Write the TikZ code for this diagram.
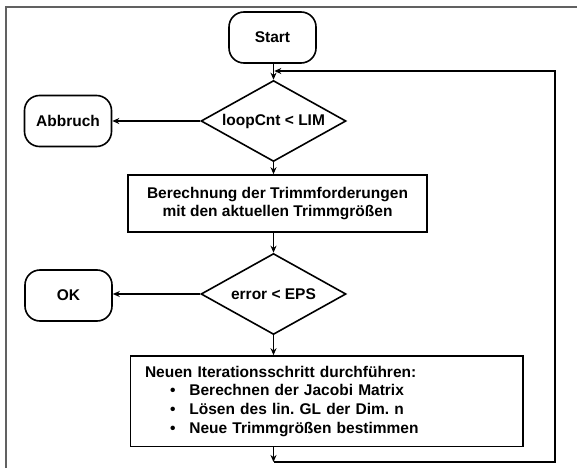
\documentclass[tikz,border=0pt]{standalone}
\usepackage{fontspec}
\setmainfont{Liberation Sans}
\usetikzlibrary{shapes.geometric,arrows.meta}
\frenchspacing
\begin{document}
\begin{tikzpicture}[x=1pt,y=-1pt,
  every node/.style={font=\bfseries\fontsize{15.5}{18.7}\selectfont},
  term/.style={draw,line width=1.6pt,rounded corners=15pt,minimum width=87pt,minimum height=51pt,inner sep=0pt},
  dec/.style={draw,line width=1.6pt,diamond,aspect=1.79,minimum width=145pt,minimum height=81pt,inner sep=0pt},
  proc/.style={draw,line width=1.6pt,inner sep=0pt},
  flow/.style={line width=1.6pt,-{Stealth[length=7pt,width=6pt]}},
  frame/.style={draw=black!62,line width=2pt}]
\useasboundingbox (0,0) rectangle (577,468);
\draw[frame] (6,468) -- (6,7) -- (577,7);
\node[term] (start) at (272.5,37.5) {Start};
\node[dec] (d1) at (273.5,121) {loopCnt < LIM};
\node[term] (abb) at (68,121) {Abbruch};
\node[proc,minimum width=299pt,minimum height=57pt,align=center] (b1) at (277.5,203.5)
  {\fontsize{15.5}{22.5}\selectfont Berechnung der Trimmforderungen\\mit den aktuellen Trimmgrößen};
\node[dec] (d2) at (273.5,294) {error < EPS};
\node[term] (ok) at (68.5,295.5) {OK};
\node[proc,minimum width=392.5pt,minimum height=90.5pt,text width=363.5pt,inner xsep=14.5pt,align=left] (b2) at (326.75,401.25)
  {Neuen Iterationsschritt durchführen:\\
   \hspace*{25pt}\textbullet\hspace{14pt}Berechnen der Jacobi Matrix\\
   \hspace*{25pt}\textbullet\hspace{14pt}Lösen des lin. GL der Dim. n\\
   \hspace*{25pt}\textbullet\hspace{14pt}Neue Trimmgrößen bestimmen};
\coordinate (j1) at (273.5,71);
\coordinate (j2) at (273.5,462);
\coordinate (rc) at (555,462);
\draw[flow] (start.south -| d1.north) -- (d1.north);
\draw[flow] (d1.west) -- (abb.east);
\draw[flow] (d1.south) -- (d1.south |- b1.north);
\draw[flow] (b1.south -| d2.north) -- (d2.north);
\draw[flow] (d2.west) -- (ok.east |- d2.west);
\draw[flow] (d2.south) -- (d2.south |- b2.north);
\draw[flow] (b2.south -| j2) -- (j2);
\draw[flow,shorten >=0.8pt] (j2) -- (rc) |- (j1);
\end{tikzpicture}
\end{document}
